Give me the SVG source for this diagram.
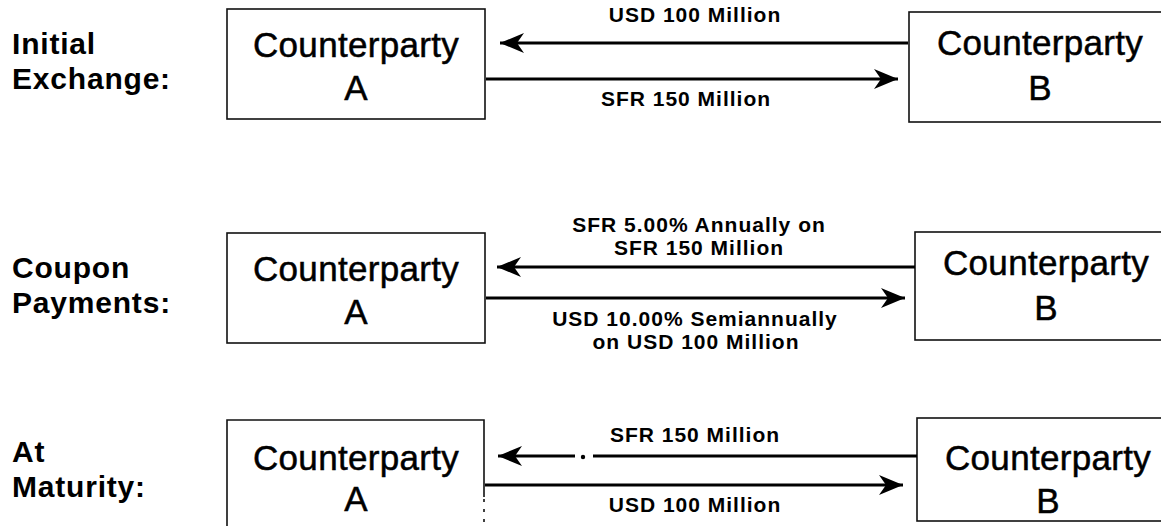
<svg xmlns="http://www.w3.org/2000/svg" width="1161" height="526" viewBox="0 0 1161 526">
<style>
.box{fill:none;stroke:#111;stroke-width:1.6}
.lbl{font-family:"Liberation Sans",Arial,sans-serif;font-weight:bold;font-size:30px;letter-spacing:0.8px;fill:#000}
.cp{font-family:"Liberation Sans",Arial,sans-serif;font-size:35px;fill:#000;stroke:#000;stroke-width:0.5;text-anchor:middle;letter-spacing:0.3px}
.al{font-family:"Liberation Sans",Arial,sans-serif;font-weight:bold;font-size:21px;fill:#000;text-anchor:middle;letter-spacing:1px}
.ln{stroke:#000;stroke-width:3;fill:none}
</style>
<defs>
<marker id="ah" markerUnits="userSpaceOnUse" markerWidth="26" markerHeight="22" viewBox="-25 -11 26 22" refX="0" refY="0" orient="auto">
<path d="M0,0 L-24,-10 L-17,0 L-24,10 Z" fill="#000"/>
</marker>
</defs>
<rect width="1161" height="526" fill="#fff"/>

<g id="labels">
<text class="lbl" x="12" y="54">Initial</text>
<text class="lbl" x="12" y="89">Exchange:</text>
<text class="lbl" x="12" y="278">Coupon</text>
<text class="lbl" x="12" y="313">Payments:</text>
<text class="lbl" x="12" y="462">At</text>
<text class="lbl" x="12" y="497">Maturity:</text>
</g>

<g id="r1a">
<rect class="box" x="227" y="9" width="258" height="110"/>
<text class="cp" x="356" y="57">Counterparty</text>
<text class="cp" x="356" y="100">A</text>
</g>
<g id="r1b">
<rect class="box" x="909" y="12" width="270" height="110"/>
<text class="cp" x="1040" y="55">Counterparty</text>
<text class="cp" x="1040" y="100">B</text>
</g>

<g id="r2a">
<rect class="box" x="227" y="233" width="258" height="110"/>
<text class="cp" x="356" y="281">Counterparty</text>
<text class="cp" x="356" y="324">A</text>
</g>
<g id="r2b">
<rect class="box" x="915" y="232" width="270" height="108"/>
<text class="cp" x="1046" y="275">Counterparty</text>
<text class="cp" x="1046" y="320">B</text>
</g>

<g id="r3a">
<path class="box" d="M227,540 L227,420 L484,420 L484,497"/>
<path class="box" d="M484,499 L484,540" stroke-dasharray="3,7"/>
<text class="cp" x="356" y="470">Counterparty</text>
<text class="cp" x="356" y="511">A</text>
</g>
<g id="r3b">
<rect class="box" x="917" y="418" width="270" height="103"/>
<text class="cp" x="1048" y="470">Counterparty</text>
<text class="cp" x="1048" y="513">B</text>
</g>

<g id="connectors">
<line class="ln" x1="908" y1="43" x2="500" y2="43" marker-end="url(#ah)"/>
<line class="ln" x1="486" y1="79" x2="898" y2="79" marker-end="url(#ah)"/>
<line class="ln" x1="915" y1="267" x2="497" y2="267" marker-end="url(#ah)"/>
<line class="ln" x1="486" y1="298" x2="905" y2="298" marker-end="url(#ah)"/>
<line class="ln" x1="917" y1="456" x2="593" y2="456"/>
<circle cx="583" cy="457" r="2.2" fill="#000"/>
<line class="ln" x1="575" y1="456" x2="498" y2="456" marker-end="url(#ah)"/>
<line class="ln" x1="485" y1="485" x2="903" y2="485" marker-end="url(#ah)"/>
</g>

<g id="arrow-labels">
<text class="al" x="695" y="22">USD 100 Million</text>
<text class="al" x="686" y="106">SFR 150 Million</text>
<text class="al" x="699" y="232">SFR 5.00% Annually on</text>
<text class="al" x="699" y="255">SFR 150 Million</text>
<text class="al" x="695" y="326">USD 10.00% Semiannually</text>
<text class="al" x="696" y="349">on USD 100 Million</text>
<text class="al" x="695" y="442">SFR 150 Million</text>
<text class="al" x="695" y="512">USD 100 Million</text>
</g>
</svg>
